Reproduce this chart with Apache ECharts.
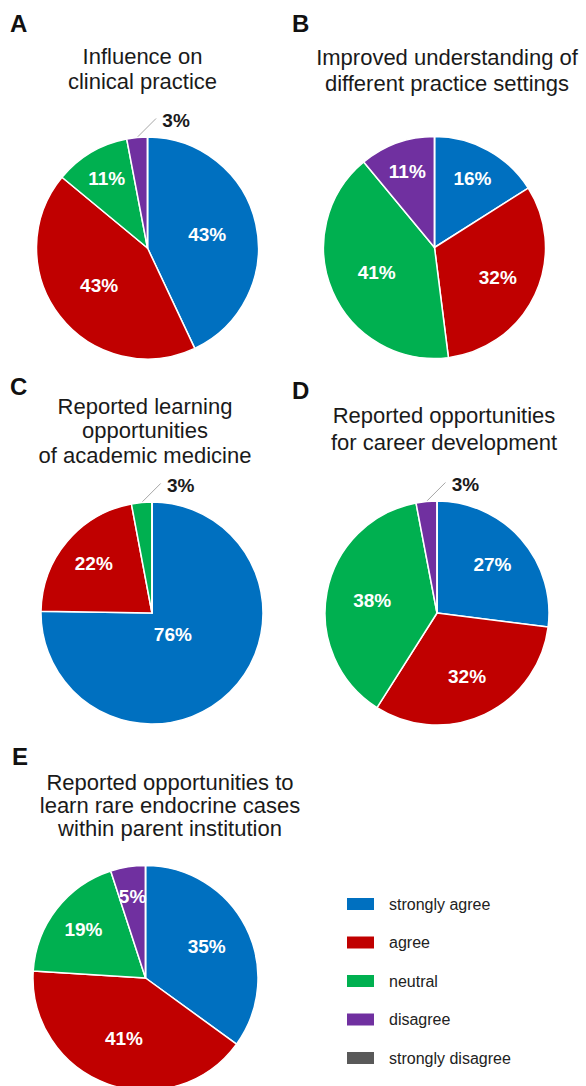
<!DOCTYPE html>
<html>
<head>
<meta charset="utf-8">
<script src="https://cdn.jsdelivr.net/npm/echarts@6/dist/echarts.min.js"></script>
<style>
  html, body { margin: 0; padding: 0; background: #fff; }
  #chart { width: 586px; height: 1086px; }
</style>
</head>
<body>
<div id="chart"></div>
<script>
// answer categories (legend order) and their colours
const categories = ['strongly agree', 'agree', 'neutral', 'disagree', 'strongly disagree'];
const colors = ['#0070C0', '#C00000', '#00B050', '#7030A0', '#595959'];

// percentages per panel, in category order
const valuesA = [43, 43, 11, 3, 0];
const valuesB = [16, 32, 41, 11, 0];
const valuesC = [76, 22, 3, 0, 0];
const valuesD = [27, 32, 38, 3, 0];
const valuesE = [35, 41, 19, 5, 0];

const panelLetters = ['A', 'B', 'C', 'D', 'E'];
const panelTitles = [
  'Influence on\nclinical practice',
  'Improved understanding of\ndifferent practice settings',
  'Reported learning\nopportunities\nof academic medicine',
  'Reported opportunities\nfor career development',
  'Reported opportunities to\nlearn rare endocrine cases\nwithin parent institution'
];

const panelValues = [valuesA, valuesB, valuesC, valuesD, valuesE];

// layout
const font = '"Liberation Sans", Arial, sans-serif';
const pieCenters = [[147.5, 248], [434.5, 247.5], [152, 613], [437, 613], [145.5, 978]];
const pieRadius = [111, 111, 111, 112, 112.5];
const letterPos = [[10, 23.5], [292, 23.5], [10, 386], [292, 390], [12, 756]];
const titlePos = [[142.5, 69], [447, 70], [145, 430.5], [444, 429], [170, 805]];
const titleLineHeight = [25, 26, 24.5, 27, 23];

// put each percentage roughly where the slice's centroid is, small slices go outside
function placeLabel(si) {
  return function (params) {
    const vals = panelValues[si];
    const total = vals.reduce((a, b) => a + b, 0);
    let before = 0;
    for (let i = 0; i < params.dataIndex; i++) before += vals[i];
    const v = vals[params.dataIndex];
    if (!v) return {};
    const mid = (before + v / 2) / total * 2 * Math.PI;
    const half = v / total * Math.PI;
    const cx = pieCenters[si][0], cy = pieCenters[si][1], r = pieRadius[si];
    const sx = Math.sin(mid), sy = -Math.cos(mid);
    if (v / total < 0.04) {
      const ex = cx + sx * r, ey = cy + sy * r;
      return {
        x: ex + 39, y: ey - 17, align: 'center', verticalAlign: 'middle',
        labelLinePoints: [[ex, ey], [ex + 9.5, ey - 9.5], [ex + 19, ey - 19]]
      };
    }
    const f = 2 * Math.sin(half) / (3 * half) + 0.07;
    return { x: cx + sx * f * r, y: cy + sy * f * r, align: 'center', verticalAlign: 'middle' };
  };
}

function pieData(values) {
  return categories.map((name, i) => {
    const v = values[i];
    const small = v > 0 && v < 4;
    let label = {};
    if (v === 0) label = { show: false };
    else if (small) label = { position: 'outside', color: '#1a1a1a' };
    return {
      name: name,
      value: v,
      itemStyle: { color: colors[i] },
      label: label,
      labelLine: { show: small }
    };
  });
}

const titles = [];
panelLetters.forEach((t, i) => {
  titles.push({
    text: t, left: letterPos[i][0], top: letterPos[i][1], padding: 0,
    textAlign: 'left', textVerticalAlign: 'middle',
    textStyle: { fontFamily: font, fontSize: 24, fontWeight: 'bold', color: '#111' }
  });
});
panelTitles.forEach((t, i) => {
  titles.push({
    text: t, left: titlePos[i][0], top: titlePos[i][1], padding: 0,
    textAlign: 'center', textVerticalAlign: 'middle',
    textStyle: { fontFamily: font, fontSize: 22, fontWeight: 'normal', color: '#1a1a1a', lineHeight: titleLineHeight[i] }
  });
});

const series = panelValues.map((vals, si) => ({
  type: 'pie',
  center: pieCenters[si],
  radius: pieRadius[si],
  startAngle: 90,
  clockwise: true,
  silent: true,
  avoidLabelOverlap: false,
  data: pieData(vals),
  itemStyle: { borderColor: '#fff', borderWidth: 1.5 },
  label: {
    show: true, position: 'inside', formatter: '{c}%',
    color: '#fff', fontSize: 19, fontWeight: 'bold', fontFamily: font
  },
  labelLine: { show: false, lineStyle: { color: '#a6a6a6', width: 1 } },
  labelLayout: placeLabel(si),
  emphasis: { disabled: true }
}));

const myChart = echarts.init(document.getElementById('chart'), null, { renderer: 'svg' });
myChart.setOption({
  animation: false,
  backgroundColor: '#fff',
  title: titles,
  legend: {
    orient: 'vertical',
    left: 345,
    top: 896,
    padding: 0,
    itemWidth: 29,
    itemHeight: 14,
    itemGap: 22.5,
    icon: 'rect',
    selectedMode: false,
    data: categories,
    textStyle: { fontFamily: font, fontSize: 16, color: '#222', lineHeight: 14, padding: [0, 0, 0, 9] }
  },
  series: series
});
</script>
</body>
</html>
